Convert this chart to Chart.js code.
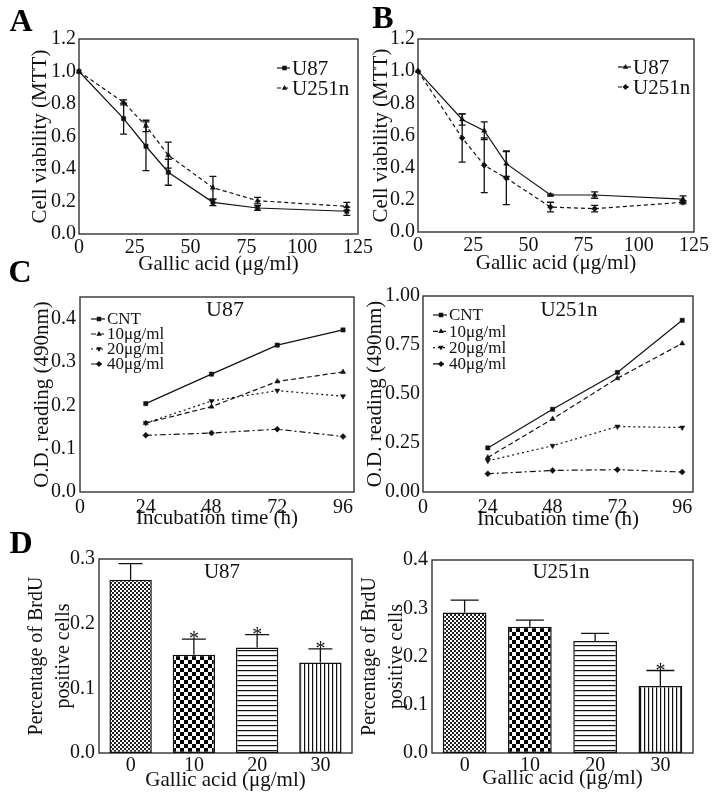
<!DOCTYPE html>
<html><head><meta charset="utf-8">
<script src="https://cdn.jsdelivr.net/npm/chart.js@4.4.1/dist/chart.umd.min.js"></script>
<style>
html,body{margin:0;padding:0;background:#fff;}
#wrap{position:relative;width:714px;height:799px;overflow:hidden;background:#fff}
#wrap canvas{position:absolute;left:0;top:0;}
</style></head><body><div id="wrap">
<canvas id="cA" width="714" height="799"></canvas>
<canvas id="cB" width="714" height="799"></canvas>
<canvas id="cC1" width="714" height="799"></canvas>
<canvas id="cC2" width="714" height="799"></canvas>
<canvas id="cD1" width="714" height="799"></canvas>
<canvas id="cD2" width="714" height="799"></canvas>
</div>
<script>
// ---------- DATA ----------
const doseMTT = [0, 20, 30, 40, 60, 80, 120];
const mttTicksX = [0, 25, 50, 75, 100, 125];
const mttTicksY = [0, 0.2, 0.4, 0.6, 0.8, 1.0, 1.2];

const A_U87 = [1.0, 0.71, 0.54, 0.38, 0.195, 0.16, 0.14];
const A_U87_err = [0, 0.095, 0.15, 0.08, 0.02, 0.015, 0.025];
const A_U251n = [1.0, 0.81, 0.665, 0.485, 0.285, 0.205, 0.17];
const A_U251n_err = [0, 0.015, 0.035, 0.08, 0.07, 0.02, 0.025];

const B_U87 = [1.0, 0.70, 0.63, 0.425, 0.23, 0.23, 0.205];
const B_U87_err = [0, 0.035, 0.055, 0.08, 0.005, 0.02, 0.02];
const B_U251n = [1.0, 0.585, 0.415, 0.335, 0.155, 0.145, 0.185];
const B_U251n_err = [0, 0.15, 0.17, 0.165, 0.03, 0.02, 0.01];

const hours = [24, 48, 72, 96];
const hourTicks = [0, 24, 48, 72, 96];
const odLabels = ['CNT', '10μg/ml', '20μg/ml', '40μg/ml'];
const C_U87_ticksY = [0, 0.1, 0.2, 0.3, 0.4];
const C_U87_CNT = [0.204, 0.272, 0.339, 0.374];
const C_U87_10 = [0.159, 0.197, 0.255, 0.277];
const C_U87_20 = [0.159, 0.210, 0.234, 0.221];
const C_U87_40 = [0.131, 0.136, 0.145, 0.128];
const C_U251n_ticksY = [0, 0.25, 0.5, 0.75, 1.0];
const C_U251n_CNT = [0.225, 0.422, 0.610, 0.876];
const C_U251n_10 = [0.176, 0.373, 0.580, 0.758];
const C_U251n_20 = [0.159, 0.236, 0.334, 0.329];
const C_U251n_40 = [0.093, 0.110, 0.114, 0.102];

const brduDoses = ['0', '10', '20', '30'];
const D_U87 = [0.268, 0.152, 0.163, 0.140];
const D_U87_err = [0.025, 0.024, 0.020, 0.021];
const D_U87_sig = [false, true, true, true];
const D_U87_ticksY = [0, 0.1, 0.2, 0.3];
const D_U251n = [0.291, 0.2615, 0.232, 0.139];
const D_U251n_err = [0.026, 0.014, 0.016, 0.032];
const D_U251n_sig = [false, false, false, true];
const D_U251n_ticksY = [0, 0.1, 0.2, 0.3, 0.4];

// ---------- STYLE ----------
const W = 714, H = 799;
const FONT = '"Liberation Serif","Times New Roman",serif';
const INK = '#111';
Chart.defaults.font.family = FONT;
Chart.defaults.color = INK;
Chart.defaults.animation = false;

function drawMarker(ctx, style, x, y, r) {
  ctx.beginPath();
  if (style === 'rect') { const s = r * 0.75; ctx.rect(x - s, y - s, 2 * s, 2 * s); }
  else if (style === 'triangle') { ctx.moveTo(x, y - r); ctx.lineTo(x + r * 0.9, y + r * 0.6); ctx.lineTo(x - r * 0.9, y + r * 0.6); ctx.closePath(); }
  else if (style === 'triangleDown') { ctx.moveTo(x, y + r); ctx.lineTo(x + r * 0.9, y - r * 0.6); ctx.lineTo(x - r * 0.9, y - r * 0.6); ctx.closePath(); }
  else if (style === 'rectRot') { ctx.moveTo(x, y - r); ctx.lineTo(x + r, y); ctx.lineTo(x, y + r); ctx.lineTo(x - r, y); ctx.closePath(); }
  ctx.fill();
}

function overlayPlugin(o) {
  return {
    id: 'overlay',
    beforeDatasetsDraw(chart) {
      const a = chart.chartArea, ctx = chart.ctx;
      ctx.save(); ctx.strokeStyle = '#333'; ctx.lineWidth = 1.4;
      ctx.strokeRect(a.left, a.top, a.right - a.left, a.bottom - a.top);
      ctx.restore();
    },
    afterDatasetsDraw(chart) {
      const ctx = chart.ctx, ys = chart.scales.y;
      // error bars + asterisks
      chart.data.datasets.forEach((ds, di) => {
        if (!ds.errors) return;
        const meta = chart.getDatasetMeta(di);
        meta.data.forEach((el, i) => {
          const raw = ds.data[i];
          const v = (typeof raw === 'object') ? raw.y : raw;
          const e = ds.errors[i];
          if (!e) return;
          const yt = ys.getPixelForValue(v + e);
          const yb = o.upperOnly ? ys.getPixelForValue(v) : ys.getPixelForValue(v - e);
          ctx.save(); ctx.strokeStyle = INK; ctx.lineWidth = 1.3; ctx.setLineDash([]);
          ctx.beginPath();
          ctx.moveTo(el.x, yt); ctx.lineTo(el.x, yb);
          ctx.moveTo(el.x - o.capW / 2, yt); ctx.lineTo(el.x + o.capW / 2, yt);
          if (!o.upperOnly) { ctx.moveTo(el.x - o.capW / 2, yb); ctx.lineTo(el.x + o.capW / 2, yb); }
          ctx.stroke();
          if (ds.sig && ds.sig[i]) {
            ctx.fillStyle = INK; ctx.font = '20px ' + FONT;
            ctx.textAlign = 'center'; ctx.textBaseline = 'middle';
            ctx.fillText('*', el.x, yt + 1);
          }
          ctx.restore();
        });
      });
    },
    afterDraw(chart) {
      const ctx = chart.ctx;
      ctx.save();
      if (o.inner) {
        ctx.fillStyle = INK; ctx.font = o.inner.size + 'px ' + FONT;
        ctx.textAlign = 'center'; ctx.textBaseline = 'middle';
        ctx.fillText(o.inner.text, o.inner.x, o.inner.y);
      }
      if (o.legend) {
        const L = o.legend;
        chart.data.datasets.forEach((ds, i) => {
          const y = L.y + i * L.dy;
          ctx.strokeStyle = INK; ctx.fillStyle = INK; ctx.lineWidth = 1.2;
          ctx.setLineDash(ds.borderDash || []);
          ctx.beginPath(); ctx.moveTo(L.x, y); ctx.lineTo(L.x + L.len, y); ctx.stroke();
          ctx.setLineDash([]);
          drawMarker(ctx, ds.markerName, L.x + L.len / 2 + 1, y, 3);
          ctx.font = L.size + 'px ' + FONT; ctx.textAlign = 'left'; ctx.textBaseline = 'middle';
          ctx.fillText(ds.label, L.x + L.len + 2, y + 1);
        });
      }
      if (o.letters) {
        ctx.fillStyle = '#000'; ctx.font = 'bold 32px ' + FONT;
        ctx.textAlign = 'center'; ctx.textBaseline = 'middle';
        o.letters.forEach(l => ctx.fillText(l[0], l[1], l[2]));
      }
      ctx.restore();
    }
  };
}

function makeScales(p) {
  const lhY = p.yTitleSize * p.yTitleLH;
  const lhX = p.xTitleSize * 1.2;
  const yw = p.L - (p.yTitleX - lhY / 2);
  const xh = p.xTitleY + lhX / 2 - p.B;
  const padding = { left: p.yTitleX - lhY / 2, top: p.T, right: W - p.R, bottom: H - p.B - xh };
  const x = {
    type: p.xType, position: 'bottom', offset: p.xType === 'category',
    grid: { display: false, drawTicks: false, tickLength: 0 },
    border: { display: false },
    ticks: { padding: p.xTickPad, font: { size: 20 }, color: INK, maxRotation: 0, autoSkip: false },
    title: { display: true, text: p.xTitle, font: { size: p.xTitleSize, lineHeight: 1.2 }, color: INK, padding: 0 },
    afterFit(s) { s.height = xh; s.paddingLeft = 0; s.paddingRight = 0; }
  };
  if (p.xType === 'linear') {
    x.min = p.xMin; x.max = p.xMax;
    x.afterBuildTicks = s => { s.ticks = p.xTicks.map(v => ({ value: v })); };
  }
  const y = {
    type: 'linear', min: p.yMin, max: p.yMax,
    grid: { display: false, drawTicks: false, tickLength: 0 },
    border: { display: false },
    ticks: { padding: p.yTickPad, font: { size: 20 }, color: INK, callback: v => Number(v).toFixed(p.yDec) },
    afterBuildTicks: s => { s.ticks = p.yTicks.map(v => ({ value: v })); },
    title: { display: true, text: p.yTitle, font: { size: p.yTitleSize, lineHeight: p.yTitleLH }, color: INK, padding: 0 },
    afterFit(s) { s.width = yw; s.paddingTop = 0; s.paddingBottom = 0; }
  };
  return { scales: { x, y }, padding };
}

function lineDS(label, xs, ys, errs, dash, marker, rot) {
  return {
    label, data: xs.map((d, i) => ({ x: d, y: ys[i] })), errors: errs,
    borderColor: INK, borderWidth: 1.2, borderDash: dash, markerName: marker,
    pointStyle: marker === 'triangleDown' ? 'triangle' : marker, pointRotation: rot || 0,
    pointRadius: 3, pointBackgroundColor: INK, pointBorderColor: INK, pointBorderWidth: 0.5,
    fill: false, tension: 0, clip: false
  };
}

function lineChart(id, p, datasets, ov) {
  const s = makeScales(p);
  return new Chart(document.getElementById(id), {
    type: 'line',
    data: { datasets },
    options: {
      responsive: false, animation: false, devicePixelRatio: 1,
      layout: { padding: s.padding },
      plugins: { legend: { display: false }, tooltip: { enabled: false } },
      scales: s.scales
    },
    plugins: [overlayPlugin(ov)]
  });
}

function makePattern(kind) {
  const c = document.createElement('canvas');
  const g = c.getContext('2d');
  if (kind === 'fine') {
    c.width = 4; c.height = 4; g.fillStyle = '#fff'; g.fillRect(0, 0, 4, 4);
    g.fillStyle = '#222'; g.fillRect(0, 0, 2, 2); g.fillRect(2, 2, 2, 2);
  } else if (kind === 'coarse') {
    c.width = 8; c.height = 8; g.fillStyle = '#fff'; g.fillRect(0, 0, 8, 8);
    g.fillStyle = '#000'; g.fillRect(0, 0, 4, 4); g.fillRect(4, 4, 4, 4);
  } else if (kind === 'horiz') {
    c.width = 5; c.height = 5; g.fillStyle = '#fff'; g.fillRect(0, 0, 5, 5);
    g.fillStyle = '#111'; g.fillRect(0, 0, 5, 1.2);
  } else {
    c.width = 4; c.height = 4; g.fillStyle = '#fff'; g.fillRect(0, 0, 4, 4);
    g.fillStyle = '#111'; g.fillRect(0, 0, 1.2, 4);
  }
  return document.createElement('canvas').getContext('2d').createPattern(c, 'repeat');
}
const patterns = ['fine', 'coarse', 'horiz', 'vert'].map(makePattern);

function barChart(id, p, vals, errs, sig, ov) {
  const s = makeScales(p);
  return new Chart(document.getElementById(id), {
    type: 'bar',
    data: {
      labels: brduDoses,
      datasets: [{
        label: 'BrdU', data: vals, errors: errs, sig: sig,
        backgroundColor: patterns, borderColor: INK, borderWidth: 1.5, borderSkipped: false,
        barPercentage: 0.67, categoryPercentage: 1
      }]
    },
    options: {
      responsive: false, animation: false, devicePixelRatio: 1,
      layout: { padding: s.padding },
      plugins: { legend: { display: false }, tooltip: { enabled: false } },
      scales: s.scales
    },
    plugins: [overlayPlugin(ov)]
  });
}

const mttX = 'Gallic acid (μg/ml)';
const mttY = 'Cell viability (MTT)';
const base = { yTitleSize: 21, yTitleLH: 1.2, xTitleSize: 21, xType: 'linear' };

// Panel A
lineChart('cA', Object.assign({}, base, {
  L: 79, T: 39, R: 358, B: 234, yTitleX: 40, xTitleY: 264, xTickPad: 2, yTickPad: 3,
  xMin: 0, xMax: 125, xTicks: mttTicksX, yMin: 0, yMax: 1.2, yTicks: mttTicksY, yDec: 1,
  xTitle: mttX, yTitle: mttY
}), [
  lineDS('U87', doseMTT, A_U87, A_U87_err, [], 'rect'),
  lineDS('U251n', doseMTT, A_U251n, A_U251n_err, [4, 3], 'triangle')
], { capW: 7, legend: { x: 277, y: 68, dy: 20, len: 13, size: 21 },
     letters: [['A', 21, 23], ['B', 383, 20], ['C', 20, 274], ['D', 21, 545]] });

// Panel B
lineChart('cB', Object.assign({}, base, {
  L: 418, T: 39, R: 694, B: 232, yTitleX: 381, xTitleY: 263, xTickPad: 2, yTickPad: 3,
  xMin: 0, xMax: 125, xTicks: mttTicksX, yMin: 0, yMax: 1.2, yTicks: mttTicksY, yDec: 1,
  xTitle: mttX, yTitle: mttY
}), [
  lineDS('U87', doseMTT, B_U87, B_U87_err, [], 'triangle'),
  lineDS('U251n', doseMTT, B_U251n, B_U251n_err, [4, 3], 'rectRot')
], { capW: 7, legend: { x: 618, y: 67, dy: 20, len: 13, size: 21 } });

// Panel C U87
const odY = 'O.D. reading (490nm)';
const odX = 'Incubation time (h)';
lineChart('cC1', Object.assign({}, base, {
  L: 80, T: 297, R: 354, B: 492, yTitleX: 42, xTitleY: 518, xTickPad: 4, yTickPad: 4,
  xMin: 0, xMax: 100, xTicks: hourTicks, yMin: 0, yMax: 0.45, yTicks: C_U87_ticksY, yDec: 1,
  xTitle: odX, yTitle: odY
}), [
  lineDS(odLabels[0], hours, C_U87_CNT, null, [], 'rect'),
  lineDS(odLabels[1], hours, C_U87_10, null, [5, 3], 'triangle'),
  lineDS(odLabels[2], hours, C_U87_20, null, [2, 3], 'triangleDown', 180),
  lineDS(odLabels[3], hours, C_U87_40, null, [6, 3, 2, 3], 'rectRot')
], { capW: 7, inner: { text: 'U87', x: 225, y: 310, size: 22 },
     legend: { x: 91, y: 319, dy: 15, len: 14, size: 17 } });

// Panel C U251n
lineChart('cC2', Object.assign({}, base, {
  L: 423, T: 296, R: 693, B: 492, yTitleX: 375, xTitleY: 519, xTickPad: 4, yTickPad: 3,
  xMin: 0, xMax: 100, xTicks: hourTicks, yMin: 0, yMax: 1.0, yTicks: C_U251n_ticksY, yDec: 2,
  xTitle: odX, yTitle: odY
}), [
  lineDS(odLabels[0], hours, C_U251n_CNT, null, [], 'rect'),
  lineDS(odLabels[1], hours, C_U251n_10, null, [5, 3], 'triangle'),
  lineDS(odLabels[2], hours, C_U251n_20, null, [2, 3], 'triangleDown', 180),
  lineDS(odLabels[3], hours, C_U251n_40, null, [6, 3, 2, 3], 'rectRot')
], { capW: 7, inner: { text: 'U251n', x: 569, y: 310, size: 21 },
     legend: { x: 433, y: 315, dy: 16.3, len: 14, size: 17 } });

// Panel D
const bY = ['Percentage of BrdU', 'positive cells'];
const bBase = { yTitleSize: 20, yTitleLH: 1.33, xTitleSize: 21, xType: 'category', xTitle: mttX, yTitle: bY, yMin: 0, yDec: 1 };
barChart('cD1', Object.assign({}, bBase, {
  L: 99, T: 559, R: 352, B: 753, yTitleX: 37, xTitleY: 780, xTickPad: 1, yTickPad: 4,
  yMax: 0.3, yTicks: D_U87_ticksY
}), D_U87, D_U87_err, D_U87_sig, { capW: 24, upperOnly: true, inner: { text: 'U87', x: 222, y: 572, size: 21 } });

barChart('cD2', Object.assign({}, bBase, {
  L: 432, T: 560, R: 693, B: 753, yTitleX: 370, xTitleY: 778, xTickPad: 1, yTickPad: 4,
  yMax: 0.4, yTicks: D_U251n_ticksY
}), D_U251n, D_U251n_err, D_U251n_sig, { capW: 28, upperOnly: true, inner: { text: 'U251n', x: 561, y: 572, size: 21 } });
</script>
</body></html>
